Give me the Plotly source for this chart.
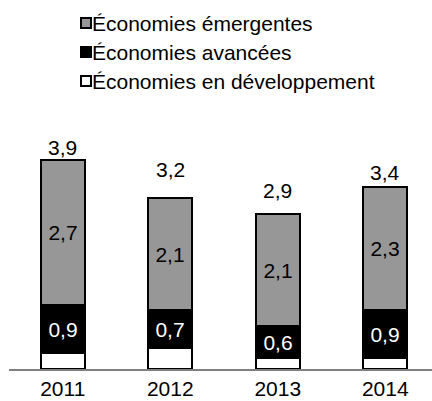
import plotly.graph_objects as go

years = ["2011", "2012", "2013", "2014"]
developpement = [0.3, 0.4, 0.2, 0.2]
avancees = [0.9, 0.7, 0.6, 0.9]
emergentes = [2.7, 2.1, 2.1, 2.3]
totals = [round(d + a + e, 1) for d, a, e in zip(developpement, avancees, emergentes)]

legend_names = ["Économies émergentes", "Économies avancées", "Économies en développement"]

GRAY = "#979797"
FONT = "Liberation Sans, Arial, sans-serif"
FS = 21
BAR_W = 0.41
total_shift = [13, 28, 23, 14]

fig = go.Figure()
common = dict(width=BAR_W, marker_line_color="black", marker_line_width=2,
              showlegend=False, textposition="inside", insidetextanchor="middle",
              constraintext="none", texttemplate="%{y:.1f}", hoverinfo="skip")
fig.add_trace(go.Bar(x=years, y=developpement, marker_color="white",
                     **{**common, "texttemplate": ""}))
fig.add_trace(go.Bar(x=years, y=avancees, marker_color="black",
                     textfont=dict(color="white", size=FS, family=FONT), **common))
fig.add_trace(go.Bar(x=years, y=emergentes, marker_color=GRAY,
                     textfont=dict(color="black", size=FS, family=FONT), **common))

# stack totals above each bar
for i, (t, s) in enumerate(zip(totals, total_shift)):
    fig.add_annotation(xref="x", yref="y", x=i, y=t, text=f"{t:.1f}".replace(".", ","),
                       showarrow=False, yanchor="middle", yshift=s,
                       font=dict(size=FS, family=FONT, color="black"))

# legend drawn as swatches + labels
swatch_colors = [GRAY, "black", "white"]
row_y = [23, 52, 81]
for name, col, yc in zip(legend_names, swatch_colors, row_y):
    fig.add_shape(type="rect", xref="paper", yref="paper",
                  x0=(81 - 9) / 423, x1=(91 - 9) / 423,
                  y0=(401 - 32 - (yc + 5)) / 225, y1=(401 - 32 - (yc - 5)) / 225,
                  fillcolor=col, line=dict(color="black", width=2))
    fig.add_annotation(xref="paper", yref="paper", x=(90 - 9) / 423,
                       y=(401 - 32 - yc) / 225, text=name, showarrow=False,
                       xanchor="left", yanchor="middle",
                       font=dict(size=FS, family=FONT, color="black"))

fig.update_layout(
    width=432, height=401, barmode="stack", bargap=0,
    margin=dict(l=9, r=0, t=144, b=32),
    plot_bgcolor="white", paper_bgcolor="white",
    separators=",.",
    font=dict(family=FONT, size=FS, color="black"),
    xaxis=dict(type="category", range=[-0.5, 3.435], showgrid=False, showline=True,
               linecolor="#808080", linewidth=1.5, ticks="",
               tickfont=dict(size=FS, family=FONT, color="black"), fixedrange=True),
    yaxis=dict(range=[0, 4.2], visible=False, fixedrange=True),
)

fig.write_html("out.html")
